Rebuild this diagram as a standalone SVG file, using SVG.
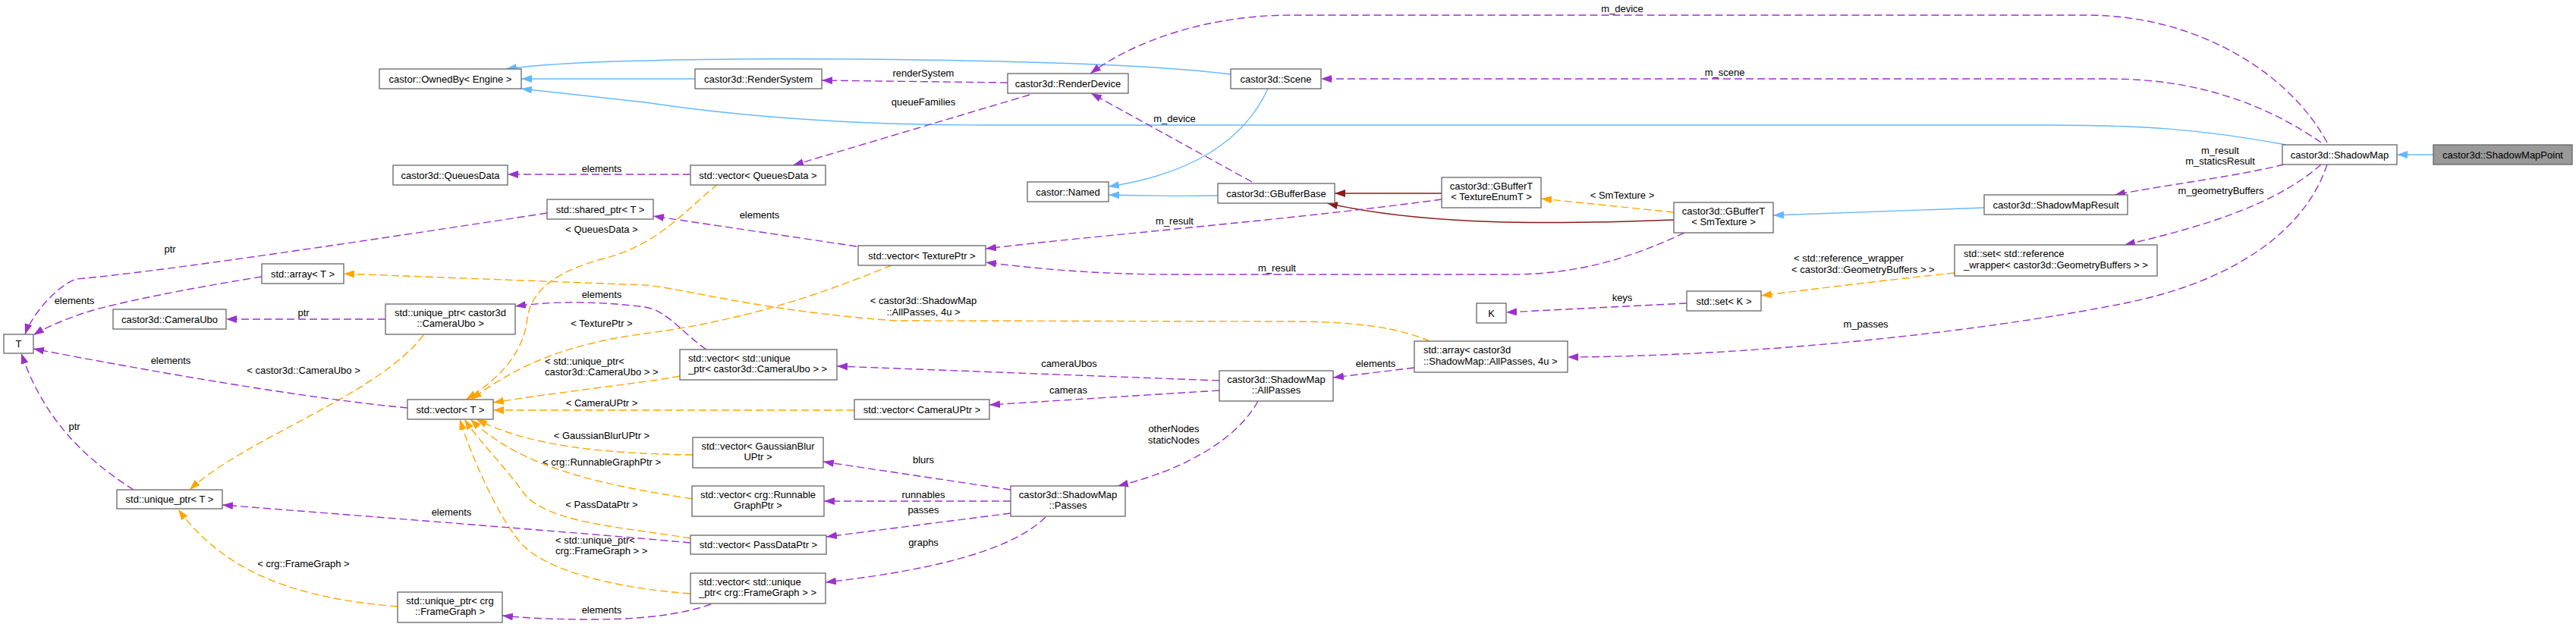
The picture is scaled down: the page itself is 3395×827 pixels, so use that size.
<svg xmlns="http://www.w3.org/2000/svg" width="3395" height="827" viewBox="0 0 3395 827">
<style>
.n rect{fill:#fff;stroke:#666;stroke-width:1.3}
.n.root rect{fill:#999}
text{font-family:"Liberation Sans",Arial,sans-serif;font-size:13px;fill:#000}
.c{text-anchor:middle}
.u{fill:none;stroke:#9A32CD;stroke-width:1.4;stroke-dasharray:10,5;marker-end:url(#mp)}
.o{fill:none;stroke:#FFA500;stroke-width:1.4;stroke-dasharray:10,5;marker-end:url(#mo)}
.i{fill:none;stroke:#63B8FF;stroke-width:1.4;marker-end:url(#mb)}
.r{fill:none;stroke:#8B1A1A;stroke-width:1.4;marker-end:url(#mr)}
</style>
<defs>
<marker id="mp" markerUnits="userSpaceOnUse" viewBox="0 0 14 10" markerWidth="14" markerHeight="10" refX="14" refY="5" orient="auto"><path d="M0,0L14,5L0,10z" fill="#9A32CD"/></marker>
<marker id="mo" markerUnits="userSpaceOnUse" viewBox="0 0 14 10" markerWidth="14" markerHeight="10" refX="14" refY="5" orient="auto"><path d="M0,0L14,5L0,10z" fill="#FFA500"/></marker>
<marker id="mb" markerUnits="userSpaceOnUse" viewBox="0 0 14 10" markerWidth="14" markerHeight="10" refX="14" refY="5" orient="auto"><path d="M0,0L14,5L0,10z" fill="#63B8FF"/></marker>
<marker id="mr" markerUnits="userSpaceOnUse" viewBox="0 0 14 10" markerWidth="14" markerHeight="10" refX="14" refY="5" orient="auto"><path d="M0,0L14,5L0,10z" fill="#8B1A1A"/></marker>
</defs>
<rect width="3395" height="827" fill="#fff"/>
<g id="connectors">
<path class="i" d="M3207,204L3159,204"/>
<path class="i" d="M3013,191C2900,170 2820,165 2700,165L1300,165C1100,165 950,150 850,135L687,117"/>
<path class="i" d="M1622,98C1450,76 1000,76 850,80C760,82 710,85 667,91"/>
<path class="i" d="M916,104L687,104"/>
<path class="i" d="M1671,117C1640,185 1570,230 1461,246"/>
<path class="i" d="M1605,258C1540,259 1500,258 1461,257"/>
<path class="i" d="M2615,274L2337,284"/>
<path class="r" d="M1900,255L1759,255"/>
<path class="r" d="M2206,290C2050,296 1880,298 1749,268"/>
<path class="o" d="M2206,280L2031,262"/>
<text class="c" x="2138" y="262">&lt; SmTexture &gt;</text>
<path class="o" d="M2576,360C2480,370 2400,380 2321,390"/>
<text x="2364" y="345">&lt; std::reference_wrapper</text>
<text x="2361" y="360">&lt; castor3d::GeometryBuffers &gt; &gt;</text>
<path class="o" d="M1884,450C1850,435 1800,424 1700,424L1180,423C1000,410 900,380 850,376L453,361"/>
<text class="c" x="1217" y="401">&lt; castor3d::ShadowMap</text>
<text class="c" x="1217" y="416">::AllPasses, 4u &gt;</text>
<path class="o" d="M946,243C900,280 870,320 800,340C740,355 700,380 695,420C690,470 650,505 614,527"/>
<text class="c" x="793" y="307">&lt; QueuesData &gt;</text>
<path class="o" d="M1175,350C1100,380 1000,420 850,440C760,452 690,475 621,527"/>
<text class="c" x="793" y="431">&lt; TexturePtr &gt;</text>
<path class="o" d="M558,442C500,520 320,580 250,646"/>
<text class="c" x="400" y="493">&lt; castor3d::CameraUbo &gt;</text>
<path class="o" d="M896,496C850,505 750,515 650,531"/>
<text x="718" y="481">&lt; std::unique_ptr&lt;</text>
<text x="718" y="495">castor3d::CameraUbo &gt; &gt;</text>
<path class="o" d="M1126,541L650,541"/>
<text class="c" x="793" y="536">&lt; CameraUPtr &gt;</text>
<path class="o" d="M913,600C800,598 700,590 628,553"/>
<text class="c" x="793" y="579">&lt; GaussianBlurUPtr &gt;</text>
<path class="o" d="M912,658C800,640 690,620 620,553"/>
<text class="c" x="793" y="614">&lt; crg::RunnableGraphPtr &gt;</text>
<path class="o" d="M910,710C820,695 720,690 690,650C665,615 630,580 612,553"/>
<text class="c" x="793" y="670">&lt; PassDataPtr &gt;</text>
<path class="o" d="M910,783C800,775 720,750 690,720C660,690 620,600 606,553"/>
<text x="732" y="717">&lt; std::unique_ptr&lt;</text>
<text x="732" y="731">crg::FrameGraph &gt; &gt;</text>
<path class="o" d="M524,800C400,790 300,760 235,672"/>
<text class="c" x="400" y="748">&lt; crg::FrameGraph &gt;</text>
<path class="u" d="M3067,188C3020,100 2900,20 2750,20L1700,20C1600,20 1500,50 1437,97"/>
<text class="c" x="2138" y="16">m_device</text>
<path class="u" d="M3059,188C2990,140 2900,104 2780,104L1741,104"/>
<text class="c" x="2273" y="100">m_scene</text>
<path class="u" d="M3010,217C2950,232 2860,243 2787,257"/>
<text class="c" x="2926" y="203">m_result</text>
<text class="c" x="2926" y="217">m_staticsResult</text>
<path class="u" d="M3059,217C3000,270 2900,300 2800,323"/>
<text class="c" x="2927" y="256">m_geometryBuffers</text>
<path class="u" d="M3067,217C3040,300 2950,370 2800,400C2600,440 2300,470 2066,471"/>
<text class="c" x="2459" y="432">m_passes</text>
<path class="u" d="M1328,109L1083,106"/>
<text class="c" x="1217" y="101">renderSystem</text>
<path class="u" d="M1357,125L1045,218"/>
<text class="c" x="1217" y="139">queueFamilies</text>
<path class="u" d="M910,230L669,230"/>
<text class="c" x="793" y="227">elements</text>
<path class="u" d="M1650,240L1438,123"/>
<text class="c" x="1548" y="161">m_device</text>
<path class="u" d="M1900,263C1700,290 1450,310 1299,328"/>
<text class="c" x="1548" y="296">m_result</text>
<path class="u" d="M2220,307C2150,340 2080,362 1990,362L1550,362C1450,362 1370,355 1299,346"/>
<text class="c" x="1683" y="358">m_result</text>
<path class="u" d="M1129,325L861,285"/>
<text class="c" x="1001" y="288">elements</text>
<path class="u" d="M721,281C500,315 200,360 100,368C70,380 40,420 33,441"/>
<text class="c" x="224" y="333">ptr</text>
<path class="u" d="M345,365C250,380 150,400 110,413C75,425 55,435 44,442"/>
<text class="c" x="98" y="401">elements</text>
<path class="u" d="M508,421L298,421"/>
<text class="c" x="400" y="417">ptr</text>
<path class="u" d="M537,538C400,525 200,490 44,460"/>
<text class="c" x="225" y="480">elements</text>
<path class="u" d="M176,646C120,610 60,560 28,466"/>
<text class="c" x="98" y="567">ptr</text>
<path class="u" d="M931,461C900,440 880,410 850,405C780,396 720,398 679,404"/>
<text class="c" x="793" y="393">elements</text>
<path class="u" d="M1607,502L1103,483"/>
<text class="c" x="1409" y="484">cameraUbos</text>
<path class="u" d="M1607,515L1304,534"/>
<text class="c" x="1408" y="519">cameras</text>
<path class="u" d="M1658,529C1630,580 1560,620 1473,641"/>
<text class="c" x="1547" y="570">otherNodes</text>
<text class="c" x="1547" y="585">staticNodes</text>
<path class="u" d="M1864,485L1757,498"/>
<text class="c" x="1813" y="484">elements</text>
<path class="u" d="M1332,646L1085,609"/>
<text class="c" x="1217" y="611">blurs</text>
<path class="u" d="M1332,661L1086,661"/>
<text class="c" x="1217" y="657">runnables</text>
<path class="u" d="M1332,677L1089,708"/>
<text class="c" x="1217" y="677">passes</text>
<path class="u" d="M1378,682C1340,720 1250,750 1088,768"/>
<text class="c" x="1217" y="720">graphs</text>
<path class="u" d="M937,797C900,810 850,817 780,817C730,817 690,815 662,812"/>
<text class="c" x="793" y="809">elements</text>
<path class="u" d="M910,716C850,710 600,690 293,666"/>
<text class="c" x="595" y="680">elements</text>
<path class="u" d="M2223,400L1985,412"/>
<text class="c" x="2138" y="397">keys</text>
</g>
<g id="ShadowMapPoint" class="n root"><rect x="3207" y="191" width="183" height="26"/><text class="c" x="3298.5" y="208.5">castor3d::ShadowMapPoint</text></g>
<g id="ShadowMap" class="n"><rect x="3008" y="191" width="151" height="26"/><text class="c" x="3083.5" y="208.5">castor3d::ShadowMap</text></g>
<g id="OwnedBy" class="n"><rect x="500" y="91" width="187" height="26"/><text class="c" x="593.5" y="108.5">castor::OwnedBy&lt; Engine &gt;</text></g>
<g id="RenderSystem" class="n"><rect x="916" y="91" width="167" height="26"/><text class="c" x="999.5" y="108.5">castor3d::RenderSystem</text></g>
<g id="RenderDevice" class="n"><rect x="1328" y="97" width="159" height="26"/><text class="c" x="1407.5" y="114.5">castor3d::RenderDevice</text></g>
<g id="Scene" class="n"><rect x="1622" y="91" width="119" height="26"/><text class="c" x="1681.5" y="108.5">castor3d::Scene</text></g>
<g id="QueuesData" class="n"><rect x="518" y="218" width="151" height="26"/><text class="c" x="593.5" y="235.5">castor3d::QueuesData</text></g>
<g id="VectorQueuesData" class="n"><rect x="910" y="218" width="178" height="26"/><text class="c" x="999" y="235.5">std::vector&lt; QueuesData &gt;</text></g>
<g id="Named" class="n"><rect x="1354" y="240" width="107" height="26"/><text class="c" x="1407.5" y="257.5">castor::Named</text></g>
<g id="GBufferBase" class="n"><rect x="1605" y="242" width="154" height="26"/><text class="c" x="1682" y="259.5">castor3d::GBufferBase</text></g>
<g id="GBufferTTextureEnumT" class="n"><rect x="1900" y="234" width="131" height="40"/><text class="c" x="1965.5" y="250">castor3d::GBufferT</text><text class="c" x="1965.5" y="264">&lt; TextureEnumT &gt;</text></g>
<g id="GBufferTSmTexture" class="n"><rect x="2206" y="267" width="131" height="40"/><text class="c" x="2271.5" y="283">castor3d::GBufferT</text><text class="c" x="2271.5" y="297">&lt; SmTexture &gt;</text></g>
<g id="ShadowMapResult" class="n"><rect x="2615" y="257" width="189" height="26"/><text class="c" x="2709.5" y="274.5">castor3d::ShadowMapResult</text></g>
<g id="SetGeometryBuffers" class="n"><rect x="2576" y="323" width="267" height="41"/><text x="2588" y="339">std::set&lt; std::reference</text><text x="2588" y="354">_wrapper&lt; castor3d::GeometryBuffers &gt; &gt;</text></g>
<g id="SharedPtrT" class="n"><rect x="721" y="263" width="140" height="26"/><text class="c" x="791" y="280.5">std::shared_ptr&lt; T &gt;</text></g>
<g id="VectorTexturePtr" class="n"><rect x="1131" y="324" width="168" height="26"/><text class="c" x="1215" y="341.5">std::vector&lt; TexturePtr &gt;</text></g>
<g id="ArrayT" class="n"><rect x="345" y="348" width="108" height="26"/><text class="c" x="399" y="365.5">std::array&lt; T &gt;</text></g>
<g id="SetK" class="n"><rect x="2223" y="384" width="98" height="26"/><text class="c" x="2272" y="401.5">std::set&lt; K &gt;</text></g>
<g id="K" class="n"><rect x="1946" y="400" width="39" height="26"/><text class="c" x="1965.5" y="417.5">K</text></g>
<g id="UniquePtrCameraUbo" class="n"><rect x="508" y="401" width="171" height="40"/><text class="c" x="593.5" y="417">std::unique_ptr&lt; castor3d</text><text class="c" x="593.5" y="431">::CameraUbo &gt;</text></g>
<g id="CameraUbo" class="n"><rect x="149" y="408" width="149" height="26"/><text class="c" x="223.5" y="425.5">castor3d::CameraUbo</text></g>
<g id="T" class="n"><rect x="5" y="441" width="39" height="25"/><text class="c" x="24.5" y="458">T</text></g>
<g id="ArrayAllPasses" class="n"><rect x="1864" y="450" width="202" height="41"/><text x="1876" y="466">std::array&lt; castor3d</text><text x="1876" y="481">::ShadowMap::AllPasses, 4u &gt;</text></g>
<g id="VectorUniquePtrCameraUbo" class="n"><rect x="896" y="461" width="207" height="40"/><text x="907" y="477">std::vector&lt; std::unique</text><text x="907" y="491">_ptr&lt; castor3d::CameraUbo &gt; &gt;</text></g>
<g id="AllPasses" class="n"><rect x="1607" y="489" width="150" height="40"/><text class="c" x="1682" y="505">castor3d::ShadowMap</text><text class="c" x="1682" y="519">::AllPasses</text></g>
<g id="VectorT" class="n"><rect x="537" y="527" width="113" height="26"/><text class="c" x="593.5" y="544.5">std::vector&lt; T &gt;</text></g>
<g id="VectorCameraUPtr" class="n"><rect x="1126" y="527" width="178" height="26"/><text class="c" x="1215" y="544.5">std::vector&lt; CameraUPtr &gt;</text></g>
<g id="VectorGaussianBlurUPtr" class="n"><rect x="913" y="577" width="172" height="40"/><text class="c" x="999" y="593">std::vector&lt; GaussianBlur</text><text class="c" x="999" y="607">UPtr &gt;</text></g>
<g id="VectorRunnableGraphPtr" class="n"><rect x="912" y="641" width="174" height="40"/><text class="c" x="999" y="657">std::vector&lt; crg::Runnable</text><text class="c" x="999" y="671">GraphPtr &gt;</text></g>
<g id="Passes" class="n"><rect x="1332" y="641" width="151" height="40"/><text class="c" x="1407.5" y="657">castor3d::ShadowMap</text><text class="c" x="1407.5" y="671">::Passes</text></g>
<g id="UniquePtrT" class="n"><rect x="154" y="646" width="139" height="25"/><text class="c" x="223.5" y="663">std::unique_ptr&lt; T &gt;</text></g>
<g id="VectorPassDataPtr" class="n"><rect x="910" y="706" width="179" height="25"/><text class="c" x="999.5" y="723">std::vector&lt; PassDataPtr &gt;</text></g>
<g id="VectorUniquePtrFrameGraph" class="n"><rect x="910" y="756" width="178" height="40"/><text x="921" y="772">std::vector&lt; std::unique</text><text x="921" y="786">_ptr&lt; crg::FrameGraph &gt; &gt;</text></g>
<g id="UniquePtrFrameGraph" class="n"><rect x="524" y="781" width="138" height="40"/><text class="c" x="593" y="797">std::unique_ptr&lt; crg</text><text class="c" x="593" y="811">::FrameGraph &gt;</text></g>
</svg>
